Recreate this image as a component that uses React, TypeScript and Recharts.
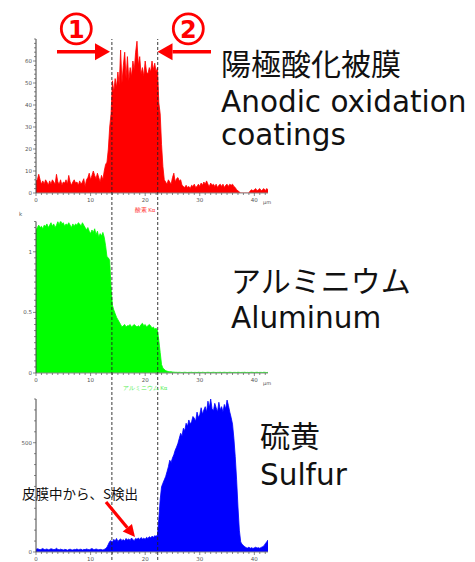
import { AreaChart, Area, Line, XAxis, YAxis, ComposedChart, ReferenceLine } from 'recharts';

// depth profile, one reading every 0.25 µm from 0 to 42.5 µm
const STEP = 0.25;

const oxygen = [
  5.5, 6, 8.5, 6, 4, 5.5, 4, 6, 5, 3.5,
  5.5, 4, 6, 5, 4, 8.5, 5, 4, 6, 3.5,
  5, 4.5, 6, 4, 8, 5, 3.5, 5, 6, 4.5,
  5, 3.5, 5.5, 4, 5, 6.5, 3, 6, 7, 9,
  6, 8, 10, 8, 6.5, 9, 7, 5, 8, 6,
  10, 13, 14, 20, 30, 36, 51, 46, 52, 48,
  55, 49, 65, 50, 58, 64, 52, 62, 51, 57,
  53, 60, 56, 64, 69, 58, 62, 54, 57, 53,
  60, 55, 54, 57, 55, 60, 56, 59, 55, 57,
  41, 36, 22, 12, 6, 5, 4, 6, 5, 4,
  7, 9, 5, 6.5, 7, 5.5, 6, 3.5, 3, 2.5,
  3.5, 2.5, 3, 2, 3.5, 3, 4, 2.5, 3, 4,
  3, 4.5, 3.5, 5, 4, 5.5, 4, 3, 4.5, 3.5,
  4, 3, 4, 2.5, 3.5, 4, 3, 4, 2.5, 3.5,
  4, 3, 4, 3.5, 4, 3, 2.5, 1.5, 1, 0.5,
  0, 0, 0, 0, 0, 0, 0, 1, 1.5, 1,
  1.5, 2, 1, 1.5, 2, 1, 1.5, 2, 1, 2,
  1.5,
];

const aluminum = [
  1.18, 1.2, 1.22, 1.2, 1.21, 1.19, 1.22, 1.21, 1.23, 1.2,
  1.22, 1.24, 1.21, 1.23, 1.2, 1.22, 1.25, 1.22, 1.26, 1.23,
  1.24, 1.21, 1.23, 1.22, 1.24, 1.22, 1.2, 1.23, 1.21, 1.23,
  1.22, 1.24, 1.23, 1.21, 1.24, 1.22, 1.2, 1.18, 1.2, 1.17,
  1.15, 1.18, 1.16, 1.19, 1.14, 1.17, 1.12, 1.15, 1.13, 1.16,
  1.12, 1.05, 0.96, 0.95, 0.93, 0.7, 0.56, 0.52, 0.49, 0.46,
  0.44, 0.42, 0.4, 0.38, 0.39, 0.4, 0.38, 0.39, 0.39, 0.4,
  0.38, 0.39, 0.4, 0.39, 0.38, 0.39, 0.38, 0.4, 0.41, 0.39,
  0.4, 0.38, 0.39, 0.4, 0.39, 0.37, 0.38, 0.36, 0.37, 0.35,
  0.27, 0.17, 0.07, 0.04, 0.03, 0.02, 0.015, 0.012, 0.01, 0.01,
  0.008, 0.007, 0.006, 0.006, 0.005, 0.006, 0.005, 0.004, 0.005, 0.006,
  0.005, 0.004, 0.005, 0.005, 0.006, 0.004, 0.005, 0.005, 0.004, 0.006,
  0.005, 0.004, 0.006, 0.005, 0.004, 0.005, 0.006, 0.005, 0.004, 0.005,
  0.006, 0.005, 0.004, 0.005, 0.005, 0.006, 0.004, 0.005, 0.006, 0.005,
  0.004, 0.005, 0.006, 0.005, 0.004, 0.005, 0.005, 0.004, 0.006, 0.005,
  0.004, 0.005, 0.005, 0.006, 0.004, 0.005, 0.004, 0.005, 0.006, 0.005,
  0.004, 0.005, 0.006, 0.004, 0.005, 0.005, 0.004, 0.006, 0.005, 0.004,
  0.005,
];

const sulfur = [
  12, 15, 13, 10, 13, 16, 11, 12, 14, 10,
  12, 15, 13, 11, 12, 17, 12, 10, 13, 11,
  9, 12, 11, 8, 11, 13, 10, 9, 12, 11,
  14, 10, 12, 13, 9, 12, 11, 14, 12, 10,
  13, 16, 12, 11, 14, 12, 10, 12, 11, 9,
  12, 16, 22, 35, 48, 52, 45, 58, 50, 62,
  48, 55, 60, 52, 57, 50, 62, 55, 60, 53,
  64, 56, 52, 62, 58, 64, 57, 66, 60, 63,
  58, 67, 62, 70, 65, 72, 68, 74, 72, 78,
  150, 240, 298, 315, 330, 345, 367, 390, 420, 410,
  430, 445, 466, 480, 497, 520, 543, 530, 566, 555,
  589, 575, 604, 585, 596, 620, 612, 598, 640, 615,
  627, 660, 630, 650, 665, 640, 690, 660, 700, 655,
  645, 680, 660, 640, 685, 650, 665, 640, 675, 655,
  695, 670, 640, 615, 585, 520, 436, 330, 206, 100,
  46, 35, 30, 24, 20, 18, 22, 17, 20, 16,
  19, 22, 18, 20, 17, 21, 24, 28, 38, 46,
  55,
];

const depthTicks = Array.from({ length: 43 }, (_, i) => i);
const depthLabels = ['0', '10', '20', '30', '40'];
const boundaries = [13.9, 22.3];

const oxygenTicks = Array.from({ length: 36 }, (_, i) => i * 2);
const oxygenLabels = ['0', '10', '20', '30', '40', '50', '60'];
const aluminumTicks = Array.from({ length: 26 }, (_, i) => i * 0.05);
const aluminumLabels = ['0', '0.5', '1'];
const sulfurTicks = Array.from({ length: 15 }, (_, i) => i * 50);
const sulfurLabels = ['0', '500'];

const rows = oxygen.map((o, i) => ({
  x: i * STEP,
  o,
  al: aluminum[i],
  s: sulfur[i],
}));

const TICK = '#555';

function XTick({ x, y, payload }: any) {
  const label = depthLabels.find((l) => Number(l) === payload.value);
  return (
    <g>
      <line x1={x} x2={x} y1={y} y2={y + (label ? 3 : 2)} stroke={TICK} strokeWidth={0.7} />
      {label && (
        <text x={x} y={y + 8.5} textAnchor='middle' fontSize={5.5} fill={TICK}>
          {label}
        </text>
      )}
    </g>
  );
}

function YTick({ x, y, payload, labels }: any) {
  const label = labels.find((l: string) => Math.abs(Number(l) - payload.value) < 1e-6);
  return (
    <g>
      <line x1={x - (label ? 3 : 2)} x2={x} y1={y} y2={y} stroke={TICK} strokeWidth={0.7} />
      {label && (
        <text x={x - 4} y={y + 2} textAnchor='end' fontSize={5.5} fill={TICK}>
          {label}
        </text>
      )}
    </g>
  );
}

function Panel({ top, height, marginTop, dataKey, color, yMax, yTicks, yLabels }: any) {
  return (
    <div style={{ position: 'absolute', left: 0, top }}>
      <AreaChart
        width={475}
        height={height}
        data={rows}
        margin={{ top: marginTop, right: 207, bottom: 8, left: 6 }}
      >
        <XAxis
          dataKey='x'
          type='number'
          domain={[0, 42.5]}
          ticks={depthTicks}
          interval={0}
          tickSize={0}
          tickMargin={0}
          tickLine={false}
          stroke='#888'
          height={12}
          tick={<XTick />}
          allowDataOverflow
        />
        <YAxis
          type='number'
          domain={[0, yMax]}
          ticks={yTicks}
          interval={0}
          width={30}
          tickSize={0}
          tickMargin={0}
          tickLine={false}
          stroke='#444'
          tick={<YTick labels={yLabels} />}
          allowDataOverflow
        />
        <Area
          type='linear'
          dataKey={dataKey}
          stroke={color}
          strokeWidth={0.8}
          fill={color}
          fillOpacity={1}
          dot={false}
          activeDot={false}
          isAnimationActive={false}
        />
      </AreaChart>
    </div>
  );
}

function Arrow({ x1, y1, x2, y2, width, head, headWidth }: any) {
  const len = Math.hypot(x2 - x1, y2 - y1);
  const ux = (x2 - x1) / len;
  const uy = (y2 - y1) / len;
  const bx = x2 - ux * head;
  const by = y2 - uy * head;
  const px = -uy * headWidth;
  const py = ux * headWidth;
  return (
    <g>
      <line x1={x1} y1={y1} x2={bx} y2={by} stroke='#ff0000' strokeWidth={width} />
      <polygon points={`${x2},${y2} ${bx + px},${by + py} ${bx - px},${by - py}`} fill='#ff0000' />
    </g>
  );
}

const JP = "'Noto Sans CJK JP', sans-serif";
const LATIN = "'DejaVu Sans', 'Noto Sans CJK JP', sans-serif";

export default function App() {
  return (
    <div
      style={{
        position: 'absolute',
        left: 0,
        top: 0,
        width: 475,
        height: 562,
        background: '#fff',
        overflow: 'hidden',
        fontFamily: "'DejaVu Sans', sans-serif",
      }}
    >
      <Panel top={0} height={213} marginTop={39} dataKey='o' color='#ff0000' yMax={70} yTicks={oxygenTicks} yLabels={oxygenLabels} />
      <Panel top={205} height={188} marginTop={16.5} dataKey='al' color='#00ff00' yMax={1.25} yTicks={aluminumTicks} yLabels={aluminumLabels} />
      <Panel top={385} height={187} marginTop={14} dataKey='s' color='#0000ff' yMax={700} yTicks={sulfurTicks} yLabels={sulfurLabels} />

      {/* dashed layer boundaries across all three panels */}
      <div style={{ position: 'absolute', left: 0, top: 0, pointerEvents: 'none' }}>
        <ComposedChart width={475} height={562} data={rows} margin={{ top: 39, right: 207, bottom: 2, left: 36 }}>
          <XAxis dataKey='x' type='number' domain={[0, 42.5]} hide allowDataOverflow />
          <YAxis type='number' domain={[0, 1]} hide width={0} allowDataOverflow />
          <Line dataKey='al' stroke='none' dot={false} activeDot={false} isAnimationActive={false} />
          {boundaries.map((b) => (
            <ReferenceLine key={b} x={b} stroke='#222' strokeWidth={0.9} strokeDasharray='3 2' ifOverflow='visible' />
          ))}
        </ComposedChart>
      </div>

      <svg width={475} height={562} style={{ position: 'absolute', left: 0, top: 0, pointerEvents: 'none' }}>
        {/* small axis captions */}
        <text x={145} y={212} textAnchor='middle' fontSize={5.5} fill='#ff3333'>酸素 Kα</text>
        <text x={145} y={390} textAnchor='middle' fontSize={5.5} fill='#55ee55'>アルミニウム Kα</text>
        <text x={19} y={216} fontSize={5.5} fill='#555'>k</text>
        <text x={263} y={204} fontSize={5} fill='#555'>µm</text>
        <text x={263} y={385} fontSize={5} fill='#555'>µm</text>

        {/* circled markers and arrows */}
        <circle cx={76.3} cy={28.8} r={15} fill='none' stroke='#ff0000' strokeWidth={2.8} />
        <text x={76.3} y={37.5} textAnchor='middle' fontSize={24} fontWeight='bold' fill='#ff0000' fontFamily={LATIN}>1</text>
        <circle cx={188.3} cy={28.8} r={15} fill='none' stroke='#ff0000' strokeWidth={2.8} />
        <text x={188.3} y={37.5} textAnchor='middle' fontSize={24} fontWeight='bold' fill='#ff0000' fontFamily={LATIN}>2</text>
        <Arrow x1={57} y1={51.7} x2={110} y2={51.7} width={3.5} head={15} headWidth={8.5} />
        <Arrow x1={211} y1={51.7} x2={157.5} y2={51.7} width={3.5} head={15} headWidth={8.5} />

        {/* labels */}
        <text x={221} y={75} fontSize={30} fill='#111' fontFamily={JP}>陽極酸化被膜</text>
        <text x={221} y={112} fontSize={29.5} fill='#111' fontFamily={LATIN}>Anodic oxidation</text>
        <text x={221} y={145} fontSize={29.5} fill='#111' fontFamily={LATIN}>coatings</text>
        <text x={231} y={292} fontSize={30} fill='#111' fontFamily={JP}>アルミニウム</text>
        <text x={231} y={328} fontSize={29.5} fill='#111' fontFamily={LATIN}>Aluminum</text>
        <text x={260} y={447} fontSize={30} fill='#111' fontFamily={JP}>硫黄</text>
        <text x={260} y={485} fontSize={29.5} fill='#111' fontFamily={LATIN}>Sulfur</text>

        <text x={22} y={499} fontSize={13.5} fill='#111' fontFamily={JP}>皮膜中から、S検出</text>
        <Arrow x1={106} y1={502} x2={135} y2={537} width={3.2} head={12} headWidth={6} />
      </svg>
    </div>
  );
}
